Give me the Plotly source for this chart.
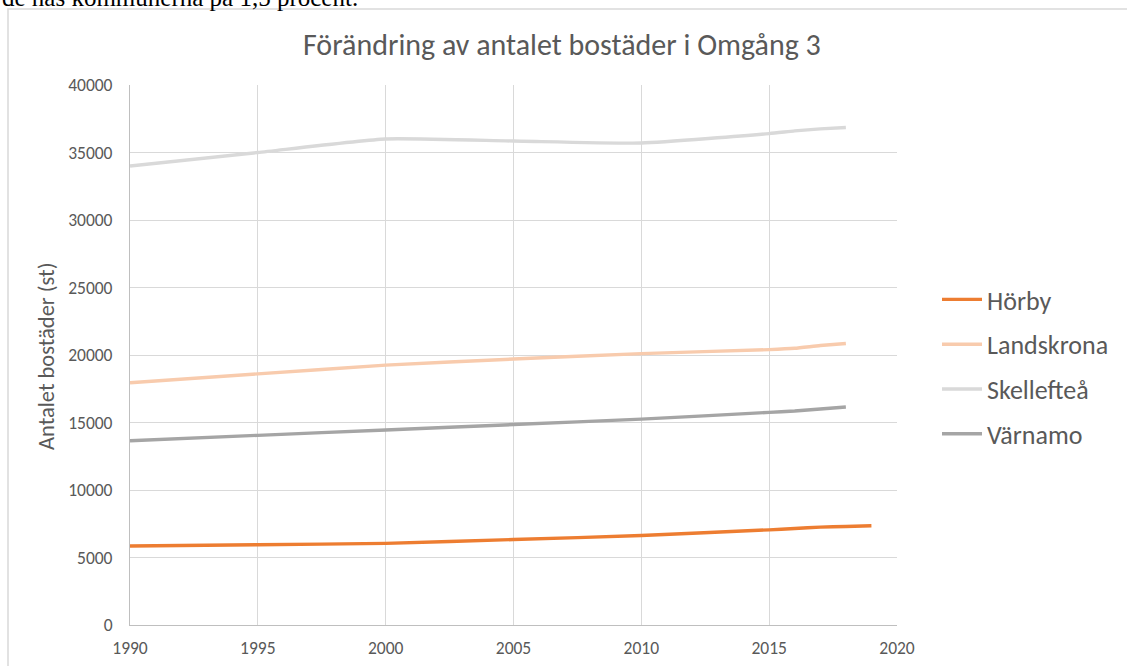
import plotly.graph_objects as go

# ---- data ----
years = [1990, 1995, 2000, 2005, 2010, 2015, 2016, 2017, 2018]
years_horby = [1990, 1995, 2000, 2005, 2010, 2015, 2016, 2017, 2018, 2019]
horby = [5850, 5950, 6050, 6330, 6630, 7050, 7150, 7250, 7300, 7350]
landskrona = [17950, 18600, 19250, 19700, 20100, 20400, 20500, 20700, 20850]
skelleftea = [34000, 35000, 36000, 35850, 35700, 36400, 36600, 36750, 36850]
varnamo = [13650, 14050, 14450, 14850, 15250, 15750, 15850, 16000, 16150]

series = [
    ("Hörby", years_horby, horby, "#ED7D31"),
    ("Landskrona", years, landskrona, "#F8CBAD"),
    ("Skellefteå", years, skelleftea, "#D9D9D9"),
    ("Värnamo", years, varnamo, "#A5A5A5"),
]

x_ticks = [1990, 1995, 2000, 2005, 2010, 2015, 2020]
y_ticks = list(range(0, 40001, 5000))

title_text = "Förändring av antalet bostäder i Omgång 3"
y_title = "Antalet bostäder (st)"
above_text = "de nås kommunerna på 1,5 procent."

FONT = "Carlito, Calibri, 'Open Sans', sans-serif"
TXT = "#595959"

W, H = 1127, 666
L, R, T, B = 130, 230, 85, 41
pw, ph = W - L - R, H - T - B


def px(x):
    return (x - L) / pw


def py(y):
    return (H - B - y) / ph


fig = go.Figure()
for i, (name, xs, ys, col) in enumerate(series):
    fig.add_trace(go.Scatter(
        x=xs, y=ys, name=name, mode="lines",
        line=dict(color=col, width=3.4, shape="spline", smoothing=0.5),
        legendgroup=f"g{i}",
    ))

fig.update_layout(
    width=W, height=H,
    margin=dict(l=L, r=R, t=T, b=B, autoexpand=False),
    paper_bgcolor="white", plot_bgcolor="white",
    showlegend=True,
    legend=dict(
        x=px(937), y=py(276), xanchor="left", yanchor="top",
        font=dict(family=FONT, size=26, color=TXT),
        tracegroupgap=8, itemwidth=40,
        bgcolor="rgba(0,0,0,0)",
    ),
    xaxis=dict(
        range=[1990, 2020], tickvals=x_ticks, ticktext=[str(v) for v in x_ticks],
        showgrid=True, gridcolor="#D9D9D9", gridwidth=1,
        showline=True, linecolor="#BFBFBF", linewidth=1,
        zeroline=False, ticks="",
        tickfont=dict(family=FONT, size=17.5, color=TXT),
        ticklabelstandoff=7, fixedrange=True,
    ),
    yaxis=dict(
        range=[0, 40000], tickvals=y_ticks, ticktext=[str(v) for v in y_ticks],
        showgrid=True, gridcolor="#D9D9D9", gridwidth=1,
        showline=True, linecolor="#BFBFBF", linewidth=1,
        zeroline=False, ticks="",
        tickfont=dict(family=FONT, size=17.5, color=TXT),
        ticklabelstandoff=13, fixedrange=True,
    ),
    shapes=[
        dict(type="rect", xref="paper", yref="paper",
             x0=px(8), x1=px(W + 20), y0=py(H + 20), y1=py(9),
             line=dict(color="#D9D9D9", width=1.5), fillcolor="rgba(0,0,0,0)",
             layer="below"),
    ],
    annotations=[
        dict(text=title_text, xref="paper", yref="paper",
             x=px(562), y=py(45), xanchor="center", yanchor="middle",
             showarrow=False, font=dict(family=FONT, size=30, color=TXT)),
        dict(text=y_title, xref="paper", yref="paper", textangle=-90,
             x=px(46), y=py(357), xanchor="center", yanchor="middle",
             showarrow=False, font=dict(family=FONT, size=22.5, color=TXT)),
        dict(text=above_text, xref="paper", yref="paper",
             x=px(0), y=py(13), xanchor="left", yanchor="bottom",
             showarrow=False,
             font=dict(family="'Liberation Serif', 'Times New Roman', serif",
                       size=25, color="black")),
    ],
)

fig.write_html("out.html", config={"displayModeBar": False},
               post_script="document.body.style.margin='0';")
